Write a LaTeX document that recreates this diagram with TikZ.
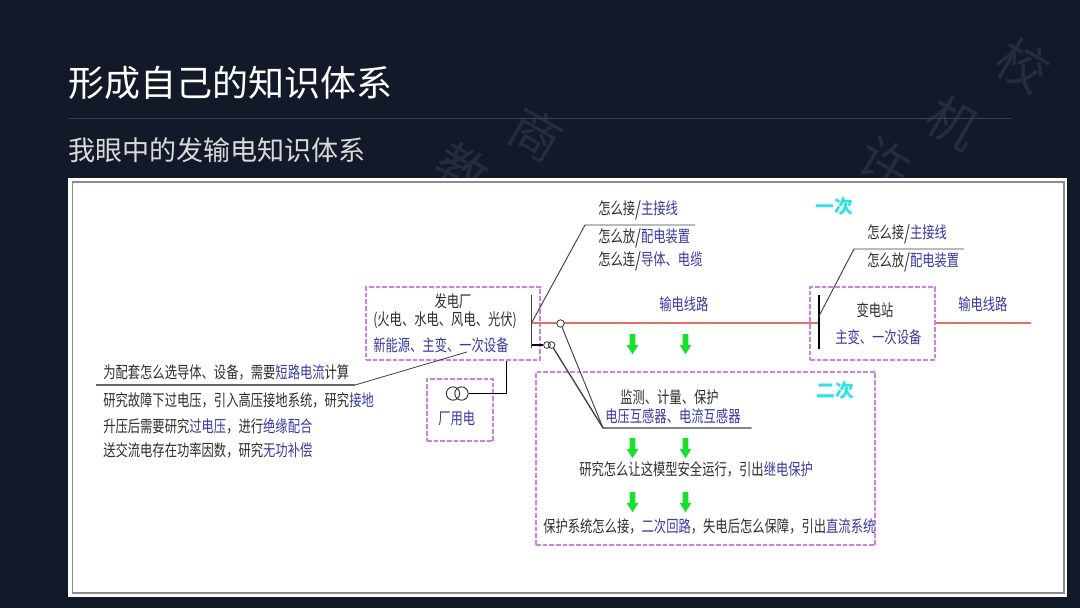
\documentclass[tikz,border=0pt]{standalone}
\usepackage{fontspec}
\usetikzlibrary{shapes.arrows}
\newfontfamily\dgfont[FakeStretch=0.75]{Noto Sans CJK SC}
\newfontfamily\cjkfont{Noto Sans CJK SC}
\definecolor{bgc}{HTML}{121929}
\definecolor{wmc}{HTML}{262C3B}
\definecolor{rulec}{HTML}{2B3F68}
\definecolor{txtc}{HTML}{2E2E2E}
\definecolor{bluet}{HTML}{3A3AA6}
\definecolor{zonec}{HTML}{D27EE6}
\definecolor{linered}{HTML}{E2705F}
\definecolor{tagc}{HTML}{2FE3E3}
\definecolor{arrowc}{HTML}{18E02C}
\newcommand{\bz}[1]{\textcolor{bluet}{#1}}
\newcommand{\sla}{\raisebox{-0.1em}{\fontsize{15pt}{15pt}\selectfont /}}
\tikzset{
  x=0.75pt,y=-0.75pt,
  lab/.style={inner sep=0pt,anchor=west,text=txtc,font=\dgfont\fontsize{12.3pt}{14pt}\selectfont},
  labc/.style={lab,anchor=center},
  ttl/.style={inner sep=0pt,anchor=west,text=white,font=\cjkfont\fontsize{27pt}{30pt}\selectfont},
  subttl/.style={inner sep=0pt,anchor=west,text=black!15,font=\cjkfont\fontsize{20.3pt}{24pt}\selectfont},
  zone/.style={draw=zonec,line width=1.1pt,dash pattern=on 3.5pt off 1.5pt,inner sep=0pt},
  wm/.style={inner sep=0pt,text=wmc,font=\cjkfont\fontsize{38pt}{40pt}\selectfont},
  blk/.style={draw=black!75,line width=0.7pt},
  blkb/.style={draw=black,line width=1.5pt},
  rdl/.style={draw=linered,line width=1.1pt},
  gArrow/.style={single arrow,draw=none,fill=arrowc,rotate=-90,minimum height=15pt,single arrow head extend=2.2pt,single arrow tip angle=65,inner sep=0pt},
  tag/.style={inner sep=0pt,text=tagc,font=\cjkfont\bfseries\fontsize{14pt}{16pt}\selectfont},
}
\newcommand{\shaft}{\rule{0pt}{3.8pt}}
\begin{document}
\begin{tikzpicture}
\useasboundingbox (0,0) rectangle (1080,608);
\fill[bgc] (0,0) rectangle (1080,608);
% watermark
\node[wm,rotate=-30] (w1) at (536,134) {商};
\node[wm,rotate=-30] (w2) at (462,170) {教};
\node[wm,rotate=-30] (w3) at (1023,65) {校};
\node[wm,rotate=-30] (w4) at (953,122) {机};
\node[wm,rotate=-30] (w5) at (885,163) {许};
% header
\node[ttl] (title) at (68,83) {形成自己的知识体系};
\coordinate (ruleA) at (68,118.5);
\coordinate (ruleB) at (1012,118.5);
\draw[rulec,line width=0.8pt] (ruleA) -- (ruleB);
\node[subttl] (subtitle) at (68,150) {我眼中的发输电知识体系};
% panel
\fill[white] (68,177.5) rectangle (1067,597);
\draw[black!45,line width=1pt] (72.5,182) rectangle (1064,593);
% zones
\node[zone,minimum width=130.5pt,minimum height=54.75pt] (gen) at (453,323.5) {};
\node[zone,minimum width=49.75pt,minimum height=46.5pt] (aux) at (460,410) {};
\node[zone,minimum width=254.5pt,minimum height=130pt] (zoneS) at (705.5,458.5) {};
\node[zone,minimum width=93.75pt,minimum height=54.75pt] (zoneB) at (872.5,323.5) {};
% generator bus and lines
\coordinate (busA1) at (531.5,295);
\coordinate (busA2) at (531.5,348);
\coordinate (busAm) at (531.5,323);
\coordinate (p1) at (585,225);
\coordinate (p1e) at (695,225);
\draw[blk] (busA1) -- (busA2);
\draw[blk] (busAm) -- (p1) -- (p1e);
\coordinate (busB) at (818.5,323);
\coordinate (busAr) at (531.5,323);
\coordinate (ctc) at (560.5,323.5);
\draw[rdl] (busAr) -- (busB);
\node[circle,draw=black!80,line width=0.6pt,fill=white,minimum size=5.6pt,inner sep=0pt] (ct1) at (ctc) {};
\coordinate (st) at (531.5,345);
\node[circle,draw=black!80,line width=0.6pt,minimum size=5pt,inner sep=0pt] (vt1) at (547,345) {};
\node[circle,draw=black!80,line width=0.6pt,minimum size=5pt,inner sep=0pt] (vt2) at (551.5,345) {};
\draw[blkb,line width=1.2pt] (st) -- (vt1);
\coordinate (p2) at (603,428);
\coordinate (p2e) at (751.5,428);
\draw[blk] (ct1) -- (p2);
\draw[blk,line width=1pt] (vt2) -- (p2) -- (p2e);
% substation
\coordinate (b1) at (818.5,295);
\coordinate (b2) at (818.5,349);
\coordinate (b3) at (818.5,317);
\coordinate (p3) at (854,249);
\coordinate (p3e) at (964,249);
\draw[draw=black,line width=1.5pt] (b1) -- (b2);
\draw[blk] (b3) -- (p3) -- (p3e);
\coordinate (r2) at (1031,323);
\draw[rdl] (zoneB.east |- r2) -- (r2);
% aux transformer
\node[circle,draw=black!80,line width=0.7pt,minimum size=10pt,inner sep=0pt] (t1) at (453,393.5) {};
\node[circle,draw=black!80,line width=0.7pt,minimum size=10pt,inner sep=0pt] (t2) at (461.5,393.5) {};
\coordinate (tcn) at (506.5,393.5);
\draw[draw=black,line width=1.1pt] (t2.east) -- (tcn) -- (tcn |- gen.south);
% left leader
\coordinate (l0) at (96,385);
\coordinate (l1) at (355,385);
\coordinate (l2) at (467,352);
\draw[draw=black!60,line width=0.9pt] (l0) -- (l1);
\draw[blk,line width=0.6pt] (l1) -- (l2);
% texts top
\node[lab] (a1) at (598,210) {怎么接\sla\bz{主接线}};
\node[lab] (a2) at (598,238) {怎么放\sla\bz{配电装置}};
\node[lab] (a3) at (598,261) {怎么连\sla\bz{导体、电缆}};
\node[lab] (c1) at (867,234) {怎么接\sla\bz{主接线}};
\node[lab] (c2) at (867,262) {怎么放\sla\bz{配电装置}};
\node[labc] (g1t) at (453,301) {发电厂};
\node[lab] (g2t) at (373,320) {(火电、水电、风电、光伏)};
\node[lab] (g3t) at (373,345) {\bz{新能源、主变、一次设备}};
\node[lab] (tx1) at (659,304) {\bz{输电线路}};
\node[lab] (tx2) at (958,304) {\bz{输电线路}};
\node[tag] (yc) at (834,207) {一次};
\node[tag] (ec) at (835,390) {二次};
\node[labc] (bt) at (875,310) {变电站};
\node[lab] (bb) at (835,337) {\bz{主变、一次设备}};
\node[lab] (cy) at (438,418) {\bz{厂用电}};
\node[lab] (q1) at (103,372) {为配套怎么选导体、设备，需要\bz{短路电流}计算};
\node[lab] (q2) at (103,400) {研究故障下过电压，引入高压接地系统，研究\bz{接地}};
\node[lab] (q3) at (103,426) {升压后需要研究\bz{过电压}，进行\bz{绝缘配合}};
\node[lab] (q4) at (103,450) {送交流电存在功率因数，研究\bz{无功补偿}};
\node[lab] (s1) at (620,397) {监测、计量、保护};
\node[lab] (s2) at (605,416) {\bz{电压互感器、电流互感器}};
\node[lab] (s3) at (579,469) {研究怎么让这模型安全运行，引出\bz{继电保护}};
\node[lab] (s4) at (543,526) {保护系统怎么接，\bz{二次回路}，失电后怎么保障，引出\bz{直流系统}};
% green arrows
\node[gArrow] (ga1) at (632.5,342) {\shaft};
\node[gArrow] (ga2) at (685.5,342) {\shaft};
\node[gArrow] (ga3) at (632.5,446) {\shaft};
\node[gArrow] (ga4) at (685.5,446) {\shaft};
\node[gArrow] (ga5) at (632.5,500) {\shaft};
\node[gArrow] (ga6) at (685.5,500) {\shaft};
\end{tikzpicture}
\end{document}
